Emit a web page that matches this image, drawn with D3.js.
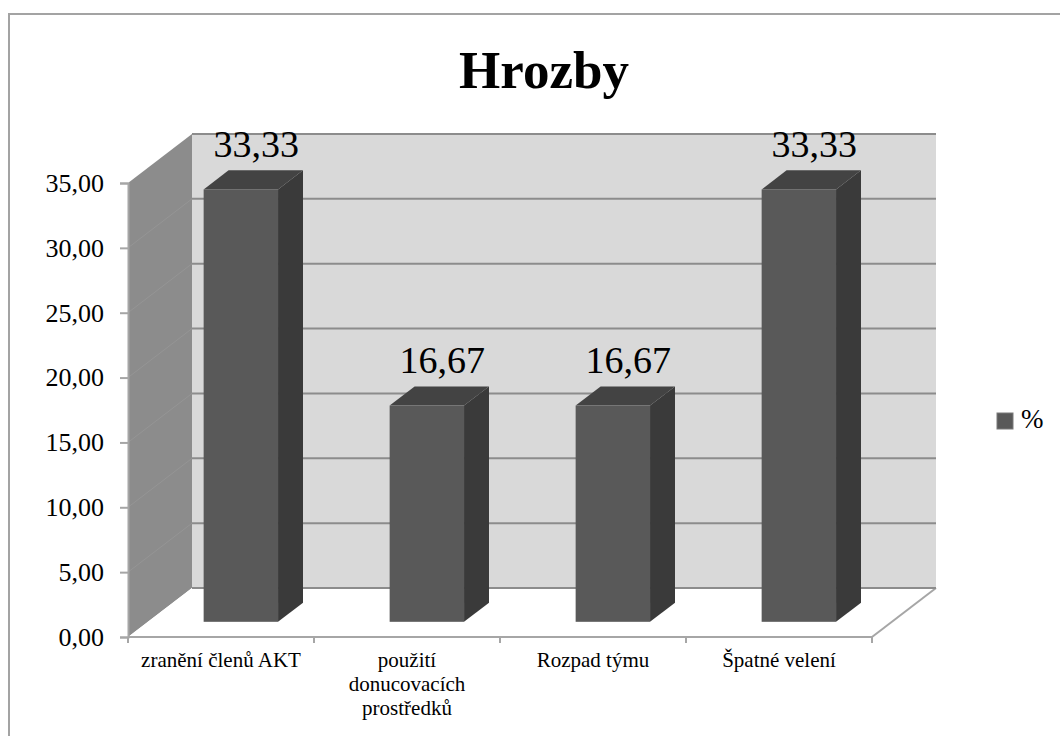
<!DOCTYPE html>
<html><head><meta charset="utf-8">
<script src="https://cdn.jsdelivr.net/npm/d3@7"></script>
<style>body{margin:0;background:#fff}svg{display:block}</style>
</head><body>
<svg id="chart" width="1060" height="736"></svg>
<script>
const title = "Hrozby";
const categories = ["zranění členů AKT", "použití donucovacích prostředků", "Rozpad týmu", "Špatné velení"];
const values = [33.33, 16.67, 16.67, 33.33];
const seriesName = "%";
const yTicks = [0, 5, 10, 15, 20, 25, 30, 35];

const svg = d3.select("#chart");
const font = "'Liberation Serif','Times New Roman',serif";
const loc = d3.formatLocale({decimal: ",", thousands: " ", grouping: [3], currency: ["", ""]});
const fmt = loc.format(".2f");

// geometry
const x0 = 128, x1 = 872, yFront0 = 637, yFront35 = 183;
const depth = {dx: 64, dy: -49};
const y = d3.scaleLinear().domain([0, 35]).range([yFront0, yFront35]);
const x = d3.scaleBand().domain(categories).range([x0, x1]).paddingInner(0).paddingOuter(0);
const barFrac = 0.4, f1 = 0.31, f2 = 0.70;

// outer border
svg.append("path").attr("d", `M9,736 L9,14 L1060,14`).attr("fill", "none").attr("stroke", "#a3a3a3").attr("stroke-width", 2);

// title
svg.append("text").attr("x", 544).attr("y", 88).attr("text-anchor", "middle")
  .attr("font-family", font).attr("font-weight", "bold").attr("font-size", 53).text(title);

const g = svg.append("g");
const ymax = y.domain()[1];

// back wall
g.append("rect").attr("x", x0 + depth.dx).attr("y", y(ymax) + depth.dy)
  .attr("width", x1 - x0).attr("height", y(0) - y(ymax)).attr("fill", "#d9d9d9");
// side wall
g.append("path").attr("d", `M${x0},${y(ymax)} L${x0+depth.dx},${y(ymax)+depth.dy} L${x0+depth.dx},${y(0)+depth.dy} L${x0},${y(0)} Z`)
  .attr("fill", "#8c8c8c");
// floor
g.append("path").attr("d", `M${x0},${y(0)} L${x0+depth.dx},${y(0)+depth.dy} L${x1+depth.dx},${y(0)+depth.dy} L${x1},${y(0)}`)
  .attr("fill", "#ffffff").attr("stroke", "none");
g.append("path").attr("d", `M${x1},${y(0)} L${x1+depth.dx},${y(0)+depth.dy}`)
  .attr("stroke", "#a6a6a6").attr("stroke-width", 2).attr("fill", "none");

// gridlines on back wall and side wall
yTicks.forEach(t => {
  g.append("line").attr("x1", x0 + depth.dx).attr("x2", x1 + depth.dx)
    .attr("y1", y(t) + depth.dy).attr("y2", y(t) + depth.dy)
    .attr("stroke", "#8c8c8c").attr("stroke-width", 2);
  if (t > 0 && t < ymax) {
    g.append("line").attr("x1", x0).attr("x2", x0 + depth.dx)
      .attr("y1", y(t)).attr("y2", y(t) + depth.dy)
      .attr("stroke", "#959595").attr("stroke-width", 1);
  }
});

// y axis
const yAxis = d3.axisLeft(y).tickValues(yTicks).tickFormat(fmt).tickSize(8).tickPadding(16);
const ya = g.append("g").attr("transform", `translate(${x0},0)`).call(yAxis);
ya.select(".domain").attr("stroke", "#a6a6a6").attr("stroke-width", 2);
ya.selectAll(".tick line").attr("stroke", "#a6a6a6").attr("stroke-width", 2);
ya.selectAll(".tick text").attr("font-family", font).attr("font-size", 26).attr("fill", "#000");

// x axis line and ticks
g.append("line").attr("x1", x0).attr("x2", x1).attr("y1", y(0)).attr("y2", y(0))
  .attr("stroke", "#a6a6a6").attr("stroke-width", 2);
const edges = categories.map(c => x(c)).concat([x.range()[1]]);
edges.forEach(e => {
  g.append("line").attr("x1", e).attr("x2", e).attr("y1", y(0)).attr("y2", y(0) + 6)
    .attr("stroke", "#a6a6a6").attr("stroke-width", 2);
});

// bars
const bw = x.bandwidth() * barFrac;
const fdx = depth.dx * f1, fdy = depth.dy * f1;
const bdx = depth.dx * (f2 - f1), bdy = depth.dy * (f2 - f1);
categories.forEach((c, i) => {
  const v = values[i];
  const left = x(c) + (x.bandwidth() - bw) / 2 + fdx;
  const right = left + bw;
  const top = y(v) + fdy, bottom = y(0) + fdy;
  // side
  g.append("path").attr("d", `M${right},${bottom} L${right+bdx},${bottom+bdy} L${right+bdx},${top+bdy} L${right},${top} Z`)
    .attr("fill", "#3a3a3a");
  // top
  g.append("path").attr("d", `M${left},${top} L${left+bdx},${top+bdy} L${right+bdx},${top+bdy} L${right},${top} Z`)
    .attr("fill", "#434343");
  // front
  g.append("rect").attr("x", left).attr("y", top).attr("width", bw).attr("height", bottom - top)
    .attr("fill", "#595959");
  // label
  g.append("text").attr("x", left + bw / 2 + bdx / 2 + 3).attr("y", top + bdy - 13)
    .attr("text-anchor", "middle").attr("font-family", font).attr("font-size", 38)
    .attr("fill", "#000").text(fmt(v));
});

// category labels with wrapping
categories.forEach(c => {
  const t = g.append("text").attr("text-anchor", "middle").attr("font-family", font)
    .attr("font-size", 21).attr("fill", "#000");
  const cx = x(c) + x.bandwidth() / 2;
  const words = c.split(" ");
  let lines = [], cur = [];
  const probe = t.append("tspan");
  words.forEach(w => {
    const trial = cur.concat([w]).join(" ");
    probe.text(trial);
    if (probe.node().getComputedTextLength() > 170 && cur.length) {
      lines.push(cur.join(" ")); cur = [w];
    } else cur.push(w);
  });
  lines.push(cur.join(" "));
  probe.remove();
  lines.forEach((l, k) => {
    t.append("tspan").attr("x", cx).attr("y", 667 + k * 24).text(l);
  });
});

// legend
svg.append("rect").attr("x", 997).attr("y", 413).attr("width", 16).attr("height", 16)
  .attr("fill", "#595959").attr("stroke", "#7a7a7a").attr("stroke-width", 1);
svg.append("text").attr("x", 1021).attr("y", 428).attr("font-family", font).attr("font-size", 27)
  .attr("fill", "#000").text(seriesName);
</script>
</body></html>
